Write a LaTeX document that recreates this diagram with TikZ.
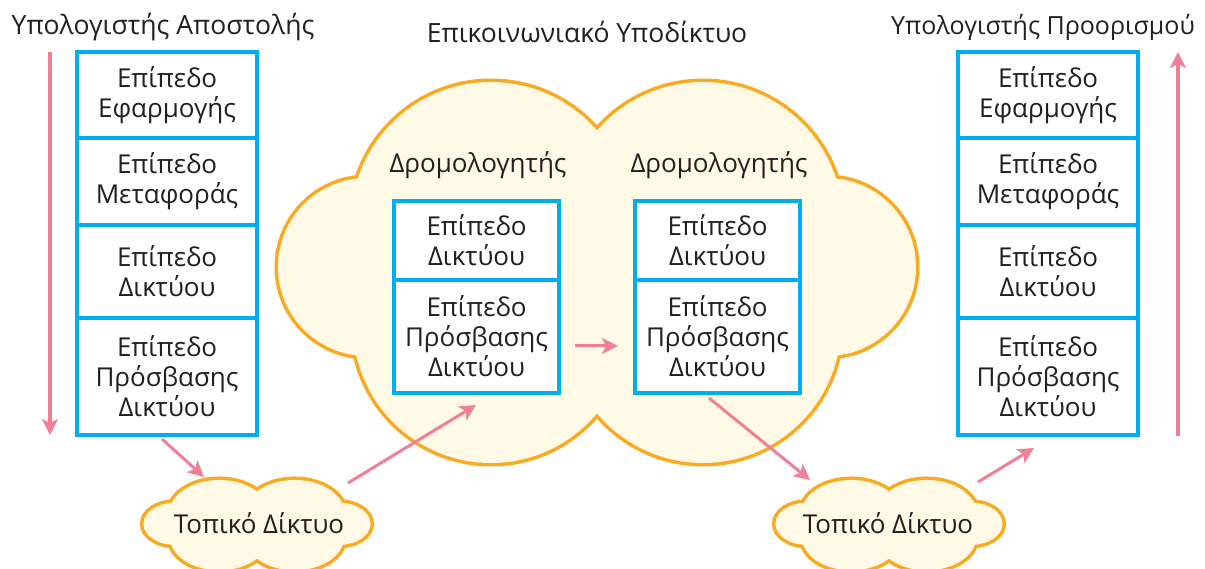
\documentclass[tikz,border=0pt]{standalone}
\usepackage{fontspec}
\setmainfont{Open Sans}
\usetikzlibrary{arrows.meta}

\definecolor{layerblue}{RGB}{0,174,239}
\definecolor{cloudedge}{RGB}{250,170,30}
\definecolor{cloudfill}{RGB}{255,249,229}
\definecolor{flowpink}{RGB}{239,128,152}
\definecolor{ink}{RGB}{35,31,32}

% lobes of a cloud, centred on the origin
\newcommand\cloudlobes{%
  (-106,-50) circle[radius=140pt]
  (106,-50) circle[radius=140pt]
  (-106,53) circle[radius=138pt]
  (106,53) circle[radius=138pt]
  (-230,-5) circle[radius=89pt]
  (230,-5) circle[radius=89pt]}

% outlined cloud: thick outline first, then the fill hides its inner half
\newcommand\cloudbody[1]{%
  \begin{scope}[#1]
    \draw[cloudedge, line width=7pt] \cloudlobes;
    \fill[cloudfill] \cloudlobes;
  \end{scope}}

\tikzset{
  txt/.style={text=ink, font=\fontsize{26}{30}\selectfont, inner sep=0pt},
  title/.style={txt, font=\fontsize{26.5}{30}\selectfont},
  layer/.style={txt, draw=layerblue, line width=4.5pt, fill=white,
    align=center, outer sep=0pt},
  hostlayer/.style={layer, minimum width=180pt},
  routerlayer/.style={layer, minimum width=165pt},
  flow/.style={draw=flowpink, line width=3pt,
    -{Stealth[length=16pt, width=16pt, inset=4pt]}},
  bigflow/.style={flow, line width=4pt}
}

\begin{document}
\begin{tikzpicture}[x=1pt, y=-1pt]
\useasboundingbox[fill=white] (0,0) rectangle (1205,569);

% clouds
\cloudbody{shift={(597,272)}}
\cloudbody{shift={(257,525)}, xscale=0.356, yscale=0.237}
\cloudbody{shift={(889,525)}, xscale=0.356, yscale=0.237}

% titles
\node[title, anchor=base] (sendT) at (163,35) {Υπολογιστής Αποστολής};
\node[title, anchor=base] (netT) at (587,43) {Επικοινωνιακό Υποδίκτυο};
\node[title, anchor=base, font=\fontsize{25}{30}\selectfont] (recvT) at (1043,35) {Υπολογιστής Προορισμού};
\node[txt, anchor=base] (rAT) at (478,173) {Δρομολογητής};
\node[txt, anchor=base] (rBT) at (719,173) {Δρομολογητής};
\node[txt, anchor=base] (lanA) at (259,533) {Τοπικό Δίκτυο};
\node[txt, anchor=base] (lanB) at (888,533) {Τοπικό Δίκτυο};

% sending host stack
\node[hostlayer, minimum height=86pt] (sA1) at (167,95) {Επίπεδο\\Εφαρμογής};
\node[hostlayer, minimum height=87pt] (sA2) at (167,181.5) {Επίπεδο\\Μεταφοράς};
\node[hostlayer, minimum height=93pt] (sA3) at (167,271.5) {Επίπεδο\\Δικτύου};
\node[hostlayer, minimum height=117pt] (sA4) at (167,376.5) {Επίπεδο\\Πρόσβασης\\Δικτύου};

% receiving host stack
\node[hostlayer, minimum height=86pt] (sB1) at (1048,95) {Επίπεδο\\Εφαρμογής};
\node[hostlayer, minimum height=87pt] (sB2) at (1048,181.5) {Επίπεδο\\Μεταφοράς};
\node[hostlayer, minimum height=93pt] (sB3) at (1048,271.5) {Επίπεδο\\Δικτύου};
\node[hostlayer, minimum height=117pt] (sB4) at (1048,376.5) {Επίπεδο\\Πρόσβασης\\Δικτύου};

% routers
\node[routerlayer, minimum height=79pt] (rA1) at (476.5,240.5) {Επίπεδο\\Δικτύου};
\node[routerlayer, minimum height=113pt] (rA2) at (476.5,336.5) {Επίπεδο\\Πρόσβασης\\Δικτύου};
\node[routerlayer, minimum height=79pt] (rB1) at (717.5,240.5) {Επίπεδο\\Δικτύου};
\node[routerlayer, minimum height=113pt] (rB2) at (717.5,336.5) {Επίπεδο\\Πρόσβασης\\Δικτύου};

% arrow end points
\coordinate (downTop) at (50,52);
\coordinate (downEnd) at (50,435);
\coordinate (upTop) at (1178,52);
\coordinate (upEnd) at (1178,436);
\coordinate (f1a) at (162,439);
\coordinate (f1b) at (204,477);
\coordinate (f2a) at (348,483);
\coordinate (f2b) at (476,405);
\coordinate (f3a) at (575,346);
\coordinate (f3b) at (618,346);
\coordinate (f4a) at (709,398);
\coordinate (f4b) at (810,480);
\coordinate (f5a) at (978,482);
\coordinate (f5b) at (1034,448);

\draw[bigflow] (downTop) -- (downEnd);
\draw[bigflow] (upEnd) -- (upTop);
\draw[flow] (f1a) -- (f1b);
\draw[flow] (f2a) -- (f2b);
\draw[flow] (f3a) -- (f3b);
\draw[flow] (f4a) -- (f4b);
\draw[flow] (f5a) -- (f5b);
\end{tikzpicture}
\end{document}
